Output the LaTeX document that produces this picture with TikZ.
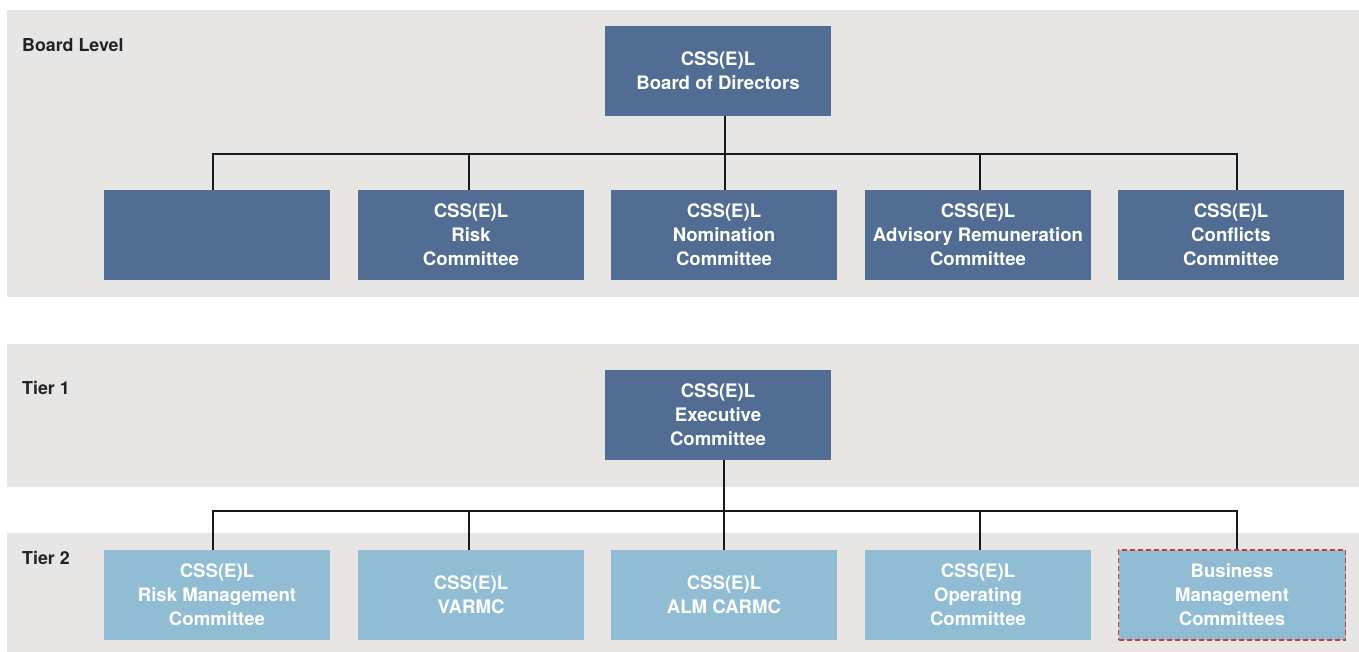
\documentclass[tikz,border=0pt]{standalone}
\usepackage{fontspec}
\setmainfont{TeX Gyre Heros}
\definecolor{bandgray}{HTML}{E8E6E4}
\definecolor{darkblue}{HTML}{516D93}
\definecolor{lightblue}{HTML}{90BCD4}
\definecolor{dashred}{HTML}{D9343A}
\definecolor{labelcol}{HTML}{222222}
\begin{document}
\begin{tikzpicture}[x=1pt,y=-1pt,
  band/.style={fill=bandgray,draw=none},
  dbox/.style={rectangle,fill=darkblue,draw=none,minimum width=226pt,minimum height=90pt,inner sep=0pt,
    text=white,align=center,font=\fontsize{18.6}{24}\selectfont\bfseries},
  lbox/.style={dbox,fill=lightblue},
  redbox/.style={lbox,draw=dashred,line width=1.2pt,dash pattern=on 5pt off 3pt,minimum width=227pt},
  lvl/.style={anchor=west,text=labelcol,font=\fontsize{17.8}{21}\selectfont\bfseries,inner sep=0pt},
  conn/.style={draw=black!90,line width=2pt}]
\useasboundingbox (0,0) rectangle (1359,652);
\fill[white] (0,0) rectangle (1359,652);
% bands
\path[band] (7,10) rectangle (1359,297);
\path[band] (7,344) rectangle (1359,487);
\path[band] (7,533) rectangle (1359,652);
% level labels
\node[lvl] (lbl1) at (22,45) {Board Level};
\node[lvl] (lbl2) at (22,388) {Tier 1};
\node[lvl] (lbl3) at (22,558) {Tier 2};
% board level
\node[dbox] (board) at (718,71) {CSS(E)L\\Board of Directors};
\node[dbox] (c1) at (217,235) {};
\node[dbox] (c2) at (471,235) {CSS(E)L\\Risk\\Committee};
\node[dbox] (c3) at (724,235) {CSS(E)L\\Nomination\\Committee};
\node[dbox] (c4) at (978,235) {CSS(E)L\\Advisory Remuneration\\Committee};
\node[dbox] (c5) at (1231,235) {CSS(E)L\\Conflicts\\Committee};
% tier 1
\node[dbox] (exec) at (718,414.5) {CSS(E)L\\Executive\\Committee};
% tier 2
\node[lbox] (t1) at (217,595) {CSS(E)L\\Risk Management\\Committee};
\node[lbox] (t2) at (471,595) {CSS(E)L\\VARMC};
\node[lbox] (t3) at (724,595) {CSS(E)L\\ALM CARMC};
\node[lbox] (t4) at (978,595) {CSS(E)L\\Operating\\Committee};
\node[redbox] (t5) at (1232,595) {Business\\Management\\Committees};
% board connectors
\coordinate (bA) at (213,154);
\coordinate (bB) at (469,154);
\coordinate (bC) at (725,154);
\coordinate (bD) at (980,154);
\coordinate (bE) at (1237,154);
\draw[conn] (bA |- c1.north) -- (bA) -- (bE) -- (bE |- c5.north);
\draw[conn] (bB) -- (bB |- c2.north);
\draw[conn] (bC |- board.south) -- (bC |- c3.north);
\draw[conn] (bD) -- (bD |- c4.north);
% tier connectors
\coordinate (tA) at (213,511);
\coordinate (tB) at (469,511);
\coordinate (tC) at (724,511);
\coordinate (tD) at (980,511);
\coordinate (tE) at (1237,511);
\draw[conn] (tA |- t1.north) -- (tA) -- (tE) -- (tE |- t5.north);
\draw[conn] (tB) -- (tB |- t2.north);
\draw[conn] (tC |- exec.south) -- (tC |- t3.north);
\draw[conn] (tD) -- (tD |- t4.north);
\end{tikzpicture}
\end{document}
